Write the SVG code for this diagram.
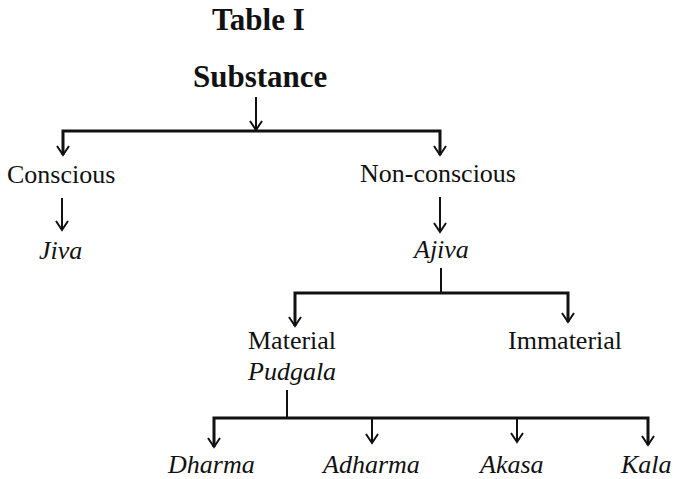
<svg xmlns="http://www.w3.org/2000/svg" width="679" height="479" viewBox="0 0 679 479">
<style>
.t{font-family:"Liberation Serif","Times New Roman",serif;font-size:26px;fill:#111}
.i{font-style:italic}
.b{font-weight:bold;font-size:31px}
.c{fill:none;stroke:#111;stroke-width:2}
.h{fill:none;stroke:#111;stroke-width:3}
</style>
<defs>
<marker id="ah" markerUnits="userSpaceOnUse" markerWidth="20" markerHeight="20" refX="0" refY="0" orient="auto" overflow="visible" viewBox="-10 -10 20 20">
<path d="M-9,-6 L0,0 L-9,6" fill="none" stroke="#111" stroke-width="2"/>
</marker>
</defs>
<g id="title"><text class="t b" x="212" y="30">Table I</text></g>
<g id="substance"><text class="t b" x="193" y="87">Substance</text></g>
<g id="conscious"><text class="t" x="7" y="183">Conscious</text></g>
<g id="nonconscious"><text class="t" x="360" y="182">Non-conscious</text></g>
<g id="jiva"><text class="t i" x="39" y="259">Jiva</text></g>
<g id="ajiva"><text class="t i" x="414" y="258">Ajiva</text></g>
<g id="material"><text class="t" x="248" y="349">Material</text><text class="t i" x="248" y="380">Pudgala</text></g>
<g id="immaterial"><text class="t" x="508" y="349">Immaterial</text></g>
<g id="dharma"><text class="t i" x="168" y="473">Dharma</text></g>
<g id="adharma"><text class="t i" x="323" y="473">Adharma</text></g>
<g id="akasa"><text class="t i" x="480" y="473">Akasa</text></g>
<g id="kala"><text class="t i" x="621" y="473">Kala</text></g>
<g id="connectors">
<line class="c" x1="256" y1="97" x2="256" y2="130" marker-end="url(#ah)"/>
<path class="h" d="M63,155 L63,131 L440,131 L440,155"/>
<line class="c" x1="63" y1="145" x2="63" y2="155" marker-end="url(#ah)"/>
<line class="c" x1="440" y1="145" x2="440" y2="155" marker-end="url(#ah)"/>
<line class="c" x1="62" y1="198" x2="62" y2="230" marker-end="url(#ah)"/>
<line class="c" x1="440" y1="197" x2="440" y2="232" marker-end="url(#ah)"/>
<line class="c" x1="441" y1="268" x2="441" y2="293"/>
<path class="h" d="M295,326 L295,293 L568,293 L568,322"/>
<line class="c" x1="295" y1="316" x2="295" y2="326" marker-end="url(#ah)"/>
<line class="c" x1="568" y1="312" x2="568" y2="322" marker-end="url(#ah)"/>
<line class="c" x1="287" y1="390" x2="287" y2="418"/>
<path class="h" d="M214,447 L214,418 L648,418 L648,445"/>
<line class="c" x1="214" y1="437" x2="214" y2="447" marker-end="url(#ah)"/>
<line class="c" x1="372" y1="418" x2="372" y2="443" marker-end="url(#ah)"/>
<line class="c" x1="517" y1="418" x2="517" y2="442" marker-end="url(#ah)"/>
<line class="c" x1="648" y1="435" x2="648" y2="445" marker-end="url(#ah)"/>
</g>
</svg>
